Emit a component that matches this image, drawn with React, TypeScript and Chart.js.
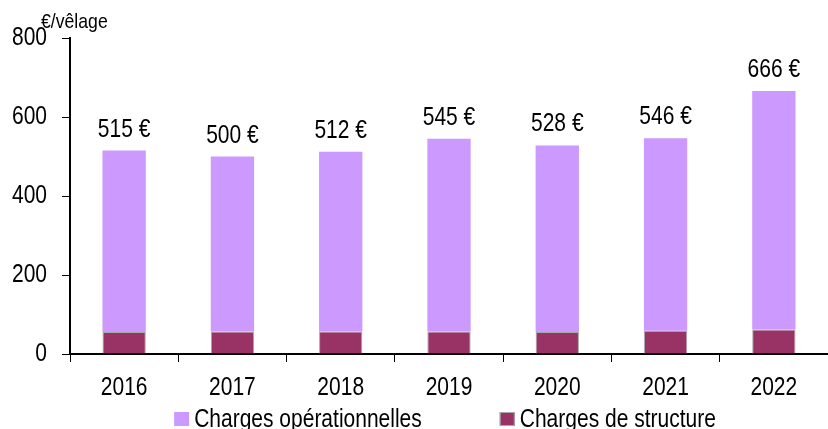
import React, { useEffect, useRef } from "react";
import { Chart, registerables } from "chart.js";

Chart.register(...registerables);

const years = ["2016", "2017", "2018", "2019", "2020", "2021", "2022"];
const totals = [515, 500, 512, 545, 528, 546, 666];
const structure = [56, 57, 57, 57, 56, 59, 62];
const operational = totals.map((t, i) => t - structure[i]);
const seriesNames = ["Charges opérationnelles", "Charges de structure"];
const yTicks = [0, 200, 400, 600, 800];
const unitLabel = "€/vêlage";

const FONT = "'Liberation Sans', Arial, sans-serif";
const SQUEEZE = 0.84;
const LIGHT = "#CC99FF";
const DARK = "#993366";

function narrowText(
  ctx: CanvasRenderingContext2D,
  text: string,
  x: number,
  y: number,
  size: number,
  align: CanvasTextAlign,
  baseline: CanvasTextBaseline
) {
  ctx.save();
  ctx.font = `${size}px ${FONT}`;
  ctx.fillStyle = "#000";
  ctx.textAlign = align;
  ctx.textBaseline = baseline;
  ctx.translate(x, y);
  ctx.scale(SQUEEZE, 1);
  ctx.fillText(text, 0, 0);
  ctx.restore();
}

function narrowWidth(ctx: CanvasRenderingContext2D, text: string, size: number) {
  ctx.save();
  ctx.font = `${size}px ${FONT}`;
  const w = ctx.measureText(text).width * SQUEEZE;
  ctx.restore();
  return w;
}

const labelsPlugin = {
  id: "totalsLabels",
  afterDatasetsDraw(chart: any) {
    const ctx = chart.ctx;
    const meta = chart.getDatasetMeta(chart.data.datasets.length - 1);
    meta.data.forEach((bar: any, i: number) => {
      narrowText(ctx, `${totals[i]} €`, bar.x, bar.y - 14, 25, "center", "alphabetic");
    });
  },
};

const axisTextPlugin = {
  id: "axisText",
  afterDraw(chart: any) {
    const ctx = chart.ctx;
    const area = chart.chartArea;
    const xs = chart.scales.x;
    const ys = chart.scales.y;
    years.forEach((y, i) => {
      narrowText(ctx, y, xs.getPixelForValue(i), area.bottom + 41, 25, "center", "alphabetic");
    });
    yTicks.forEach((v) => {
      narrowText(ctx, String(v), area.left - 23, ys.getPixelForValue(v), 25, "right", "middle");
    });
    narrowText(ctx, unitLabel, area.left - 29, area.top - 10, 21, "left", "alphabetic");
  },
};

const legendPlugin = {
  id: "customLegend",
  afterDraw(chart: any) {
    const ctx = chart.ctx;
    const area = chart.chartArea;
    const ds = [...chart.data.datasets].reverse();
    const boxW = 15;
    const boxH = 14;
    const gap = 5;
    const spacing = 78;
    const size = 25;
    const widths = ds.map((d: any) => boxW + gap + narrowWidth(ctx, d.label, size));
    const total = widths.reduce((a: number, b: number) => a + b, 0) + spacing * (ds.length - 1);
    let x = (area.left + area.right) / 2 - 4 - total / 2;
    const yc = chart.height - 10;
    ds.forEach((d: any, i: number) => {
      ctx.save();
      ctx.fillStyle = d.backgroundColor;
      ctx.fillRect(x, yc - boxH / 2, boxW, boxH);
      if (d.borderWidth) {
        ctx.strokeStyle = d.borderColor;
        ctx.lineWidth = 1;
        ctx.strokeRect(x + 0.5, yc - boxH / 2 + 0.5, boxW - 1, boxH - 1);
      }
      ctx.restore();
      narrowText(ctx, d.label, x + boxW + gap, yc + 8, size, "left", "alphabetic");
      x += widths[i] + spacing;
    });
  },
};

export default function App() {
  const ref = useRef<HTMLCanvasElement>(null);

  useEffect(() => {
    document.body.style.margin = "0";
    const canvas = ref.current;
    if (!canvas) return;
    const chart = new Chart(canvas, {
      type: "bar",
      data: {
        labels: years,
        datasets: [
          {
            label: seriesNames[1],
            data: structure,
            backgroundColor: DARK,
            borderColor: "#A8A8A8",
            borderWidth: 1,
            stack: "s",
          },
          {
            label: seriesNames[0],
            data: operational,
            backgroundColor: LIGHT,
            borderColor: "#D9B8FF",
            borderWidth: 0,
            stack: "s",
          },
        ],
      },
      options: {
        responsive: false,
        animation: false,
        devicePixelRatio: 1,
        datasets: {
          bar: { categoryPercentage: 1, barPercentage: 0.4 },
        },
        layout: { padding: { top: 38, left: 0, right: 0, bottom: 35 } },
        plugins: {
          legend: { display: false },
          tooltip: { enabled: false },
          title: { display: false },
        },
        scales: {
          x: {
            stacked: true,
            grid: {
              display: true,
              drawOnChartArea: false,
              drawTicks: true,
              tickLength: 8,
              color: "#000",
              offset: true,
            },
            border: { color: "#000", width: 2 },
            ticks: { display: false },
            afterFit: (s: any) => {
              s.height = 40;
            },
          },
          y: {
            stacked: true,
            min: yTicks[0],
            max: yTicks[yTicks.length - 1],
            afterBuildTicks: (s: any) => {
              s.ticks = yTicks.map((v) => ({ value: v }));
            },
            grid: {
              display: true,
              drawOnChartArea: false,
              drawTicks: true,
              tickLength: 8,
              color: "#000",
            },
            border: { color: "#000", width: 2 },
            ticks: { display: false },
            afterFit: (s: any) => {
              s.width = 70;
            },
          },
        },
      },
      plugins: [labelsPlugin, axisTextPlugin, legendPlugin],
    });
    return () => chart.destroy();
  }, []);

  return (
    <div style={{ width: 828, height: 429 }}>
      <canvas ref={ref} width={828} height={429} />
    </div>
  );
}
